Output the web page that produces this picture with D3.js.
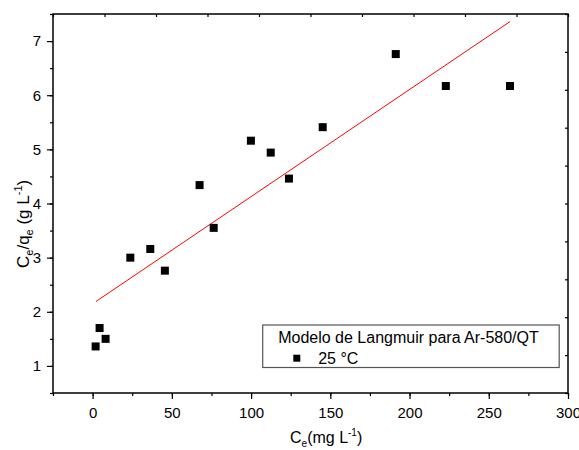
<!DOCTYPE html>
<html>
<head>
<meta charset="utf-8">
<script src="https://cdn.jsdelivr.net/npm/d3@7"></script>
<style>
  body { margin: 0; background: #fff; }
  text { font-family: "Liberation Sans", Arial, sans-serif; fill: #000; }
</style>
</head>
<body>
<script>
// measured points (Ce, Ce/qe)
var ce = [1.9, 4.4, 8.2, 23.8, 36.4, 45.6, 67.5, 76.4, 99.9, 112.4, 123.9, 145.2, 191.3, 222.9, 263.4];
var ceqe = [1.36, 1.70, 1.50, 3.00, 3.16, 2.76, 4.34, 3.55, 5.16, 4.94, 4.46, 5.41, 6.76, 6.17, 6.17];
// linear fit ends
var fitX = [2.1, 263.4];
var fitY = [2.19, 7.36];
var xTicks = [0, 50, 100, 150, 200, 250, 300];
var yTicks = [1, 2, 3, 4, 5, 6, 7];
var legendTitle = "Modelo de Langmuir para Ar-580/QT";
var seriesName = "25 °C";

var margin = {top: 14, right: 11, bottom: 57, left: 53},
    width = 579 - margin.left - margin.right,
    height = 450 - margin.top - margin.bottom;

var x = d3.scaleLinear().domain([-25, 300]).range([0, width]);
var y = d3.scaleLinear().domain([0.5, 7.5]).range([height, 0]);

var svg = d3.select("body").append("svg")
    .attr("width", 579)
    .attr("height", 450)
  .append("g")
    .attr("transform", "translate(" + margin.left + "," + margin.top + ")");

// bottom axis, minor then major
svg.append("g")
    .attr("transform", "translate(0," + height + ")")
    .call(d3.axisBottom(x).tickValues(d3.range(-25, 301, 25)).tickSize(3).tickFormat(""))
    .call(function(g) { g.select(".domain").remove(); });
var xAxis = svg.append("g")
    .attr("transform", "translate(0," + height + ")")
    .call(d3.axisBottom(x).tickValues(xTicks).tickSize(6).tickPadding(8).tickFormat(d3.format("d")))
    .call(function(g) { g.select(".domain").remove(); });
xAxis.selectAll("text").style("font-size", "15px");

// left axis
svg.append("g")
    .call(d3.axisLeft(y).tickValues(d3.range(0.5, 7.51, 0.5)).tickSize(3).tickFormat(""))
    .call(function(g) { g.select(".domain").remove(); });
var yAxis = svg.append("g")
    .call(d3.axisLeft(y).tickValues(yTicks).tickSize(6).tickPadding(6).tickFormat(d3.format("d")))
    .call(function(g) { g.select(".domain").remove(); });
yAxis.selectAll("text").style("font-size", "15px");

// top and right: plain inward ticks
var topScale = d3.scaleLinear().domain([0, 10]).range([0, width]);
svg.append("g")
    .call(d3.axisBottom(topScale).ticks(10).tickSize(3).tickFormat(""))
    .call(function(g) { g.select(".domain").remove(); });
var rightScale = d3.scaleLinear().domain([0, 10]).range([height, 0]);
svg.append("g")
    .attr("transform", "translate(" + width + ",0)")
    .call(d3.axisLeft(rightScale).ticks(10).tickSize(3).tickFormat(""))
    .call(function(g) { g.select(".domain").remove(); });

svg.selectAll(".tick line").attr("stroke", "#000").attr("stroke-width", 1.2);

// frame
svg.append("rect")
    .attr("width", width)
    .attr("height", height)
    .attr("fill", "none")
    .attr("stroke", "#000")
    .attr("stroke-width", 1.5);

// fit line
svg.append("path")
    .datum(d3.zip(fitX, fitY))
    .attr("fill", "none")
    .attr("stroke", "#ff0000")
    .attr("stroke-width", 1)
    .attr("d", d3.line().x(function(d) { return x(d[0]); }).y(function(d) { return y(d[1]); }));

// points
svg.append("g").selectAll("rect")
    .data(d3.zip(ce, ceqe))
    .enter()
    .append("rect")
    .attr("x", function(d) { return x(d[0]) - 4; })
    .attr("y", function(d) { return y(d[1]) - 4; })
    .attr("width", 8)
    .attr("height", 8)
    .attr("fill", "#000");

// legend
var lg = svg.append("g").attr("transform", "translate(" + (262.7 - margin.left) + "," + (325 - margin.top) + ")");
lg.append("rect")
    .attr("width", 296.5)
    .attr("height", 42.5)
    .attr("fill", "#fff")
    .attr("stroke", "#555")
    .attr("stroke-width", 1.2);
lg.append("text")
    .attr("x", 15.5)
    .attr("y", 18)
    .style("font-size", "16px")
    .text(legendTitle);
lg.append("rect")
    .attr("x", 30.6)
    .attr("y", 29.7)
    .attr("width", 7)
    .attr("height", 7)
    .attr("fill", "#000");
lg.append("text")
    .attr("x", 55.5)
    .attr("y", 38.5)
    .style("font-size", "16px")
    .text(seriesName);

// x axis label
var xl = svg.append("text")
    .attr("x", 290 - margin.left)
    .attr("y", 443 - margin.top)
    .style("font-size", "16px");
xl.append("tspan").text("C");
xl.append("tspan").attr("dy", 4).style("font-size", "10px").text("e");
xl.append("tspan").attr("dy", -4).text("(mg L");
xl.append("tspan").attr("dy", -7).style("font-size", "10px").text("-1");
xl.append("tspan").attr("dy", 7).text(")");

// y axis label
var yl = svg.append("text")
    .attr("transform", "translate(" + (29 - margin.left) + "," + (268 - margin.top) + ") rotate(-90)")
    .style("font-size", "17px");
yl.append("tspan").text("C");
yl.append("tspan").attr("dy", 4).style("font-size", "11px").text("e");
yl.append("tspan").attr("dy", -4).text("/q");
yl.append("tspan").attr("dy", 4).style("font-size", "11px").text("e");
yl.append("tspan").attr("dy", -4).text(" (g L");
yl.append("tspan").attr("dy", -7).style("font-size", "11px").text("-1");
yl.append("tspan").attr("dy", 7).text(")");
</script>
</body>
</html>
